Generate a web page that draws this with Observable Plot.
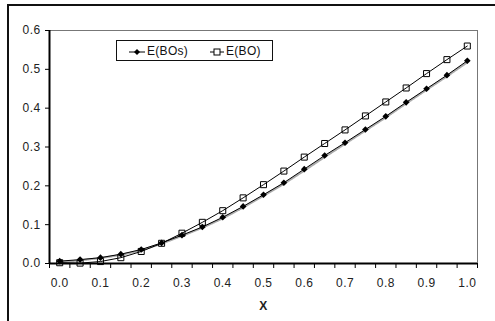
<!DOCTYPE html>
<html>
<head>
<meta charset="utf-8">
<script src="https://cdn.jsdelivr.net/npm/d3@7"></script>
<script src="https://cdn.jsdelivr.net/npm/@observablehq/plot@0.6"></script>
<style>
  html, body { margin: 0; padding: 0; background: #fff; }
  #wrap { position: relative; width: 495px; height: 321px; overflow: hidden; font-family: "Liberation Sans", Arial, sans-serif; }
  #outer { position: absolute; left: 7px; top: 4px; width: 600px; height: 400px; border: 2px solid #111; box-sizing: border-box; }
  #legend { position: absolute; left: 116px; top: 40px; width: 157px; height: 21px; border: 1px solid #111; box-sizing: border-box; background: #fff; font-size: 12px; letter-spacing: 0.3px; color: #111; }
  #legend .item { position: absolute; top: 4px; display: flex; align-items: center; line-height: 13px; }
  #legend svg { display: block; }
  #chart { position: absolute; left: 0; top: 0; }
</style>
</head>
<body>
<div id="wrap">
  <div id="outer"></div>
  <div id="chart"></div>
  <div id="legend">
    <div class="item" style="left:11px"><svg width="18" height="12"><line x1="1" y1="6" x2="17" y2="6" stroke="#000" stroke-width="1"/><path d="M9,3 L12,6 L9,9 L6,6 Z" fill="#000"/></svg><span style="margin-left:1px">E(BOs)</span></div>
    <div class="item" style="left:92px"><svg width="16" height="12"><line x1="1" y1="6" x2="15" y2="6" stroke="#000" stroke-width="1"/><rect x="5" y="3" width="6" height="6" fill="#fff" stroke="#000" stroke-width="1"/></svg><span style="margin-left:1px">E(BO)</span></div>
  </div>
</div>
<script>
const xValues = [0.00,0.05,0.10,0.15,0.20,0.25,0.30,0.35,0.40,0.45,0.50,0.55,0.60,0.65,0.70,0.75,0.80,0.85,0.90,0.95,1.00];
const eBOs  = [0.006,0.010,0.015,0.024,0.036,0.053,0.073,0.094,0.119,0.147,0.177,0.208,0.243,0.278,0.311,0.345,0.379,0.415,0.450,0.485,0.522];
const eBO   = [0.002,0.001,0.005,0.015,0.031,0.052,0.078,0.106,0.136,0.169,0.203,0.238,0.274,0.309,0.344,0.380,0.416,0.452,0.489,0.525,0.560];
const trend = [0.004,0.008,0.014,0.022,0.034,0.051,0.071,0.092,0.116,0.144,0.174,0.205,0.239,0.274,0.308,0.342,0.376,0.412,0.447,0.482,0.518];
const xTickLabels = [0.0,0.1,0.2,0.3,0.4,0.5,0.6,0.7,0.8,0.9,1.0];
const yTicks = [0.0,0.1,0.2,0.3,0.4,0.5,0.6];

const step = 0.05;
const xDomain = [xValues[0] - step/2, xValues[xValues.length-1] + step/2];
const xBoundaries = d3.range(xValues.length + 1).map(i => xDomain[0] + i*step);

const rowsBOs = xValues.map((x,i) => ({x, y: eBOs[i]}));
const rowsBO = xValues.map((x,i) => ({x, y: eBO[i]}));
const rowsTrend = xValues.map((x,i) => ({x, y: trend[i]}));

const chart = Plot.plot({
  width: 495,
  height: 321,
  marginLeft: 49,
  marginRight: 18,
  marginTop: 30,
  marginBottom: 58,
  style: {fontFamily: "'Liberation Sans', Arial, sans-serif", fontSize: "12px", letterSpacing: "0.4px", color: "#222", background: "transparent"},
  x: {domain: xDomain, range: [49, 477]},
  y: {domain: [0, 0.6]},
  marks: [
    Plot.frame({stroke: "#777", strokeWidth: 1}),
    Plot.line(rowsTrend, {x: "x", y: "y", stroke: "#aaa", strokeWidth: 2, strokeDasharray: "1,1"}),
    Plot.line(rowsBOs, {x: "x", y: "y", stroke: "#000", strokeWidth: 1}),
    Plot.line(rowsBO, {x: "x", y: "y", stroke: "#000", strokeWidth: 1}),
    Plot.dot(rowsBOs, {x: "x", y: "y", symbol: "diamond2", r: 3, fill: "#000", stroke: "none"}),
    Plot.dot(rowsBO, {x: "x", y: "y", symbol: "square", r: 3.4, fill: "none", stroke: "#000", strokeWidth: 1}),
    Plot.ruleY([0], {stroke: "#000", strokeWidth: 2}),
    Plot.ruleX([xDomain[0]], {stroke: "#000", strokeWidth: 2}),
    Plot.axisY({ticks: yTicks, tickFormat: d3.format(".1f"), tickSize: 4, tickPadding: 5, label: null, stroke: "#000"}),
    Plot.axisX({ticks: xBoundaries, tickFormat: () => "", tickSize: 5, stroke: "#000", label: null}),
    Plot.axisX({ticks: xTickLabels, tickFormat: d3.format(".1f"), tickSize: 0, tickPadding: 15, label: "X", labelAnchor: "center", labelArrow: "none", labelOffset: 46})
  ]
});
document.getElementById("chart").appendChild(chart);
chart.querySelectorAll("g[aria-label='x-axis label'] text").forEach(t => { t.style.fontWeight = "bold"; });
</script>
</body>
</html>
